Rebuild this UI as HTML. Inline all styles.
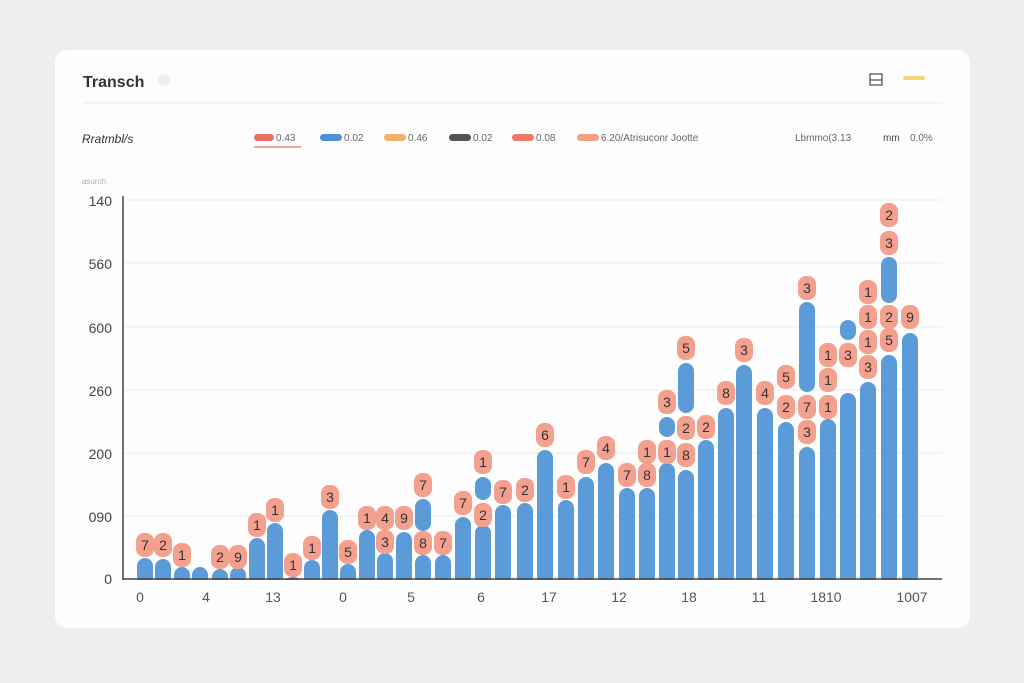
<!DOCTYPE html>
<html><head><meta charset="utf-8"><style>
body{margin:0;background:#eeeeee;width:1024px;height:678px;overflow:hidden;font-family:"Liberation Sans",sans-serif}
</style></head><body>
<svg id="s" width="1024" height="678" xmlns="http://www.w3.org/2000/svg" font-family="Liberation Sans, sans-serif">
<rect x="0" y="0" width="1024" height="678" fill="#eeeeee"/>
<rect x="55" y="50" width="915" height="578" rx="12" fill="#fdfdfd"/>
<text x="83" y="87" font-size="16" font-weight="bold" fill="#333">Transch</text>
<circle cx="164" cy="80" r="6" fill="#eee"/>
<rect x="870" y="74" width="12" height="11" fill="none" stroke="#555" stroke-width="1.3"/>
<line x1="870" y1="80" x2="882" y2="80" stroke="#555" stroke-width="1.3"/>
<rect x="903" y="76" width="22" height="4" rx="2" fill="#f5d77a"/>
<line x1="83" y1="103" x2="942" y2="103" stroke="#ececec"/>
<text x="82" y="143" font-size="12" fill="#333" font-style="italic">Rratmbl/s</text>
<g font-size="10" fill="#666">
<rect x="254" y="134" width="20" height="7" rx="3.5" fill="#ea7060"/><text x="276" y="141">0.43</text>
<line x1="254" y1="147" x2="301" y2="147" stroke="#ea7060" stroke-width="1.3"/>
<rect x="320" y="134" width="22" height="7" rx="3.5" fill="#4f8fd6"/><text x="344" y="141">0.02</text>
<rect x="384" y="134" width="22" height="7" rx="3.5" fill="#f3b06a"/><text x="408" y="141">0.46</text>
<rect x="449" y="134" width="22" height="7" rx="3.5" fill="#555"/><text x="473" y="141">0.02</text>
<rect x="512" y="134" width="22" height="7" rx="3.5" fill="#ec7a6c"/><text x="536" y="141">0.08</text>
<rect x="577" y="134" width="22" height="7" rx="3.5" fill="#f2a07e"/><text x="601" y="141">6.20/Atrisuconr Jootte</text>
<text x="795" y="141">Lbmmo(3.13</text>
<text x="883" y="141" fill="#444">mm</text><text x="910" y="141">0.0%</text>
<text x="82" y="184" font-size="8" fill="#aaa">asurch</text>
</g>
<g stroke="#ececec">
<line x1="123" y1="200" x2="942" y2="200"/><line x1="123" y1="263" x2="942" y2="263"/>
<line x1="123" y1="327" x2="942" y2="327"/><line x1="123" y1="390" x2="942" y2="390"/>
<line x1="123" y1="453" x2="942" y2="453"/><line x1="123" y1="516" x2="942" y2="516"/>
</g>
<g font-size="14" fill="#444" text-anchor="end">
<text x="112" y="206">140</text><text x="112" y="269">560</text><text x="112" y="333">600</text>
<text x="112" y="396">260</text><text x="112" y="459">200</text><text x="112" y="522">090</text><text x="112" y="584">0</text>
</g>
<g id="bars" fill="#5b9bd8"></g>
<g id="labs"></g>
<line x1="123" y1="196" x2="123" y2="580" stroke="#444" stroke-width="1.5"/>
<line x1="123" y1="579" x2="942" y2="579" stroke="#444" stroke-width="1.5"/>
<g font-size="14" fill="#555" text-anchor="middle">
<text x="140" y="602">0</text><text x="206" y="602">4</text><text x="273" y="602">13</text>
<text x="343" y="602">0</text><text x="411" y="602">5</text><text x="481" y="602">6</text>
<text x="549" y="602">17</text><text x="619" y="602">12</text><text x="689" y="602">18</text>
<text x="759" y="602">11</text><text x="826" y="602">1810</text><text x="912" y="602">1007</text>
</g>
</svg>
<script>
var NS="http://www.w3.org/2000/svg";
var bars=[[145,558],[163,559],[182,567],[200,567],[220,569],[238,567],[257,538],[275,523],[293,577],[312,560],[330,510],[348,564],[367,530],[385,553],[404,532],[423,555,499,531],[443,555],[463,517],[483,525,477,500],[503,505],[525,503],[545,450],[566,500],[586,477],[606,463],[627,488],[647,488],[667,463,417,437],[686,470,363,413],[706,440],[726,408],[744,365],[765,408],[786,422],[807,447,302,392],[828,419],[848,393,320,340],[868,382],[889,355,257,303],[910,333]];
var g=document.getElementById("bars");
function rr(x,y,w,h,r,f,p){var e=document.createElementNS(NS,"rect");e.setAttribute("x",x);e.setAttribute("y",y);e.setAttribute("width",w);e.setAttribute("height",h);e.setAttribute("rx",r);if(f)e.setAttribute("fill",f);p.appendChild(e);}
bars.forEach(function(b){rr(b[0]-8,b[1],16,579-b[1]+6,8,null,g);if(b[2])rr(b[0]-8,b[2],16,b[3]-b[2],8,null,g);});
var cover=document.createElementNS(NS,"rect");cover.setAttribute("x",124);cover.setAttribute("y",580);cover.setAttribute("width",820);cover.setAttribute("height",8);cover.setAttribute("fill","#fdfdfd");g.appendChild(cover);
var labs=[[145,545,"7"],[163,545,"2"],[182,555,"1"],[220,557,"2"],[238,557,"9"],[257,525,"1"],[275,510,"1"],[293,565,"1"],[312,548,"1"],[330,497,"3"],[348,552,"5"],[367,518,"1"],[385,518,"4"],[385,542,"3"],[404,518,"9"],[423,485,"7"],[423,543,"8"],[443,543,"7"],[463,503,"7"],[483,462,"1"],[483,515,"2"],[503,492,"7"],[525,490,"2"],[545,435,"6"],[566,487,"1"],[586,462,"7"],[606,448,"4"],[627,475,"7"],[647,475,"8"],[647,452,"1"],[667,452,"1"],[667,402,"3"],[686,348,"5"],[686,428,"2"],[686,455,"8"],[706,427,"2"],[726,393,"8"],[744,350,"3"],[765,393,"4"],[786,377,"5"],[786,407,"2"],[807,288,"3"],[807,407,"7"],[807,432,"3"],[828,355,"1"],[828,380,"1"],[828,407,"1"],[848,355,"3"],[868,292,"1"],[868,317,"1"],[868,342,"1"],[868,367,"3"],[889,215,"2"],[889,243,"3"],[889,317,"2"],[889,340,"5"],[910,317,"9"]];
var lg=document.getElementById("labs");
labs.forEach(function(l){rr(l[0]-9,l[1]-12,18,24,8,"#f4a08f",lg);var t=document.createElementNS(NS,"text");t.setAttribute("x",l[0]);t.setAttribute("y",l[1]+5);t.setAttribute("text-anchor","middle");t.setAttribute("font-size","14");t.setAttribute("fill","#333");t.textContent=l[2];lg.appendChild(t);});
</script>
</body></html>
